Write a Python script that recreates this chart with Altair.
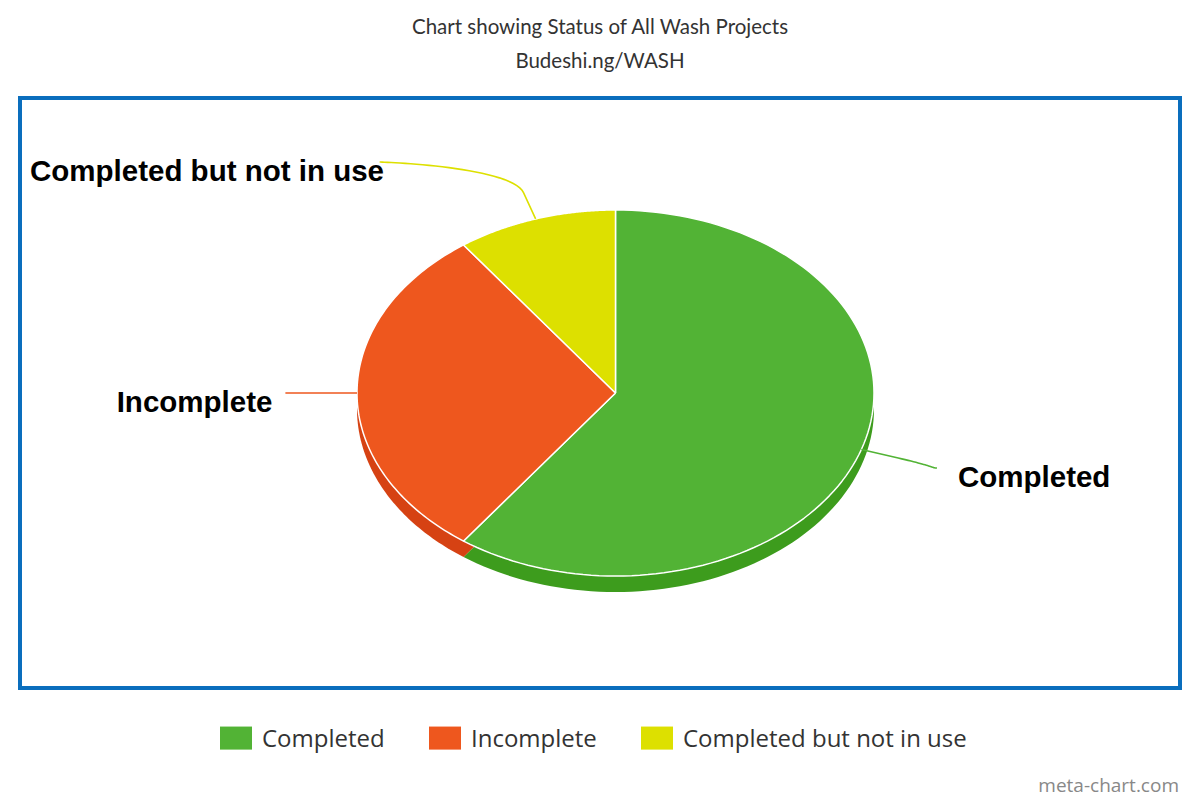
import altair as alt
import pandas as pd

# ---- data ----
CATEGORIES = ["Completed", "Incomplete", "Completed but not in use"]
VALUES = [60, 30, 10]
ORDER = [0, 1, 2]

TITLE = "Chart showing Status of All Wash Projects"
SUBTITLE = "Budeshi.ng/WASH"
CREDIT = "meta-chart.com"

# ---- styles ----
TOP_COLORS = ["#52b335", "#ee571e", "#dde000"]
SIDE_COLORS = ["#3d9c1d", "#d64213", "#b8ba00"]

W, H = 1160, 590
RX, RY = 258.5, 183.0
XDOM = [-595.5 / RX, (W - 595.5) / RX]
YDOM = [-(H - 295) / RY, 295 / RY]
DEPTH = 16 / RY
N = 120
K = 30
LABEL_FONT_SIZE = 29.5
CHAR_W = 14.75  # rough average glyph width used to keep left labels inside the frame

df = pd.DataFrame({"category": CATEGORIES, "value": VALUES, "k": ORDER})

xs = alt.Scale(domain=XDOM, nice=False, zero=False)
ys = alt.Scale(domain=YDOM, nice=False, zero=False)


def base():
    return (
        alt.Chart(df)
        .transform_joinaggregate(total="sum(value)")
        .transform_window(cum="sum(value)", sort=[alt.SortField("k")], frame=[None, 0])
        .transform_calculate(
            a0="2*PI*(datum.cum-datum.value)/datum.total",
            a1="2*PI*datum.cum/datum.total",
        )
        .transform_calculate(am="(datum.a0+datum.a1)/2")
    )


def face(shift):
    return (
        base()
        .transform_calculate(idx=f"sequence(0, {N + 3})")
        .transform_flatten(["idx"])
        .transform_calculate(
            t=f"clamp((datum.idx-1)/{N}, 0, 1)",
            inside=f"datum.idx==0 || datum.idx=={N + 2}",
        )
        .transform_calculate(ang="datum.a0+(datum.a1-datum.a0)*datum.t")
        .transform_calculate(
            px="datum.inside ? 0 : sin(datum.ang)",
            py=f"(datum.inside ? 0 : cos(datum.ang)) - {shift}",
        )
    )


side = face(DEPTH).mark_line(filled=True, strokeWidth=0).encode(
    x=alt.X("px:Q", scale=xs, axis=None),
    y=alt.Y("py:Q", scale=ys, axis=None),
    order="idx:Q",
    color=alt.Color("category:N", scale=alt.Scale(domain=CATEGORIES, range=SIDE_COLORS), legend=None),
)

top = face(0).mark_line(filled=True, stroke="white", strokeWidth=1.5, strokeJoin="round").encode(
    x=alt.X("px:Q", scale=xs, axis=None),
    y=alt.Y("py:Q", scale=ys, axis=None),
    order="idx:Q",
    color=alt.Color(
        "category:N",
        scale=alt.Scale(domain=CATEGORIES, range=TOP_COLORS),
        sort=CATEGORIES,
        legend=alt.Legend(
            title=None,
            orient="none",
            legendX=200,
            legendY=626,
            direction="horizontal",
            symbolType="M-1,-0.84H1V0.6H-1Z",
            symbolSize=1024,
            symbolStrokeWidth=0,
            symbolOpacity=1,
            labelFont="Open Sans",
            labelFontSize=24,
            labelColor="#333333",
            labelOffset=10,
            labelLimit=500,
            columnPadding=44,
            padding=0,
        ),
    ),
)


def geo():
    return (
        base()
        .transform_calculate(
            s="sin(datum.am) >= 0 ? 1 : -1",
            ux="sin(datum.am)",
            uy="cos(datum.am)",
        )
        .transform_calculate(
            ey="1.327*datum.uy",
            ex="datum.s*sqrt(1.277*1.277 - pow(0.9394*datum.uy, 2))",
            bx="1.15*datum.ux",
            by="1.15*datum.uy",
        )
    )


conn = (
    geo()
    .transform_calculate(
        p1x="datum.ex - datum.s*0.0193",
        p1y="datum.ey",
        p2x="2*datum.bx - datum.ux",
        p2y="2*datum.by - datum.uy",
        idx=f"sequence(0, {K + 2})",
    )
    .transform_flatten(["idx"])
    .transform_calculate(t=f"min(datum.idx/{K}, 1)")
    .transform_calculate(u="1-datum.t")
    .transform_calculate(
        qx="pow(datum.u,3)*datum.ex + 3*datum.u*datum.u*datum.t*datum.p1x + 3*datum.u*datum.t*datum.t*datum.p2x + pow(datum.t,3)*datum.bx",
        qy="pow(datum.u,3)*datum.ey + 3*datum.u*datum.u*datum.t*datum.p1y + 3*datum.u*datum.t*datum.t*datum.p2y + pow(datum.t,3)*datum.by",
    )
    .transform_calculate(
        lx=f"datum.idx > {K} ? datum.ux : datum.qx",
        ly=f"datum.idx > {K} ? datum.uy : datum.qy",
    )
    .mark_line(strokeWidth=1.6)
    .encode(
        x=alt.X("lx:Q", scale=xs, axis=None),
        y=alt.Y("ly:Q", scale=ys, axis=None),
        order="idx:Q",
        color=alt.Color("category:N", scale=alt.Scale(domain=CATEGORIES, range=TOP_COLORS), legend=None),
    )
)

label_style = dict(font="Liberation Sans", fontSize=LABEL_FONT_SIZE, fontWeight="bold", color="#000000", baseline="alphabetic", dy=19)

labels_right = (
    geo()
    .transform_filter("datum.s > 0")
    .mark_text(align="left", dx=21, **label_style)
    .encode(x=alt.X("ex:Q", scale=xs, axis=None), y=alt.Y("ey:Q", scale=ys, axis=None), text="category:N")
)
labels_left = (
    geo()
    .transform_filter("datum.s < 0")
    .transform_calculate(
        tx=f"max(datum.ex - {13 / RX}, {XDOM[0]} + (10 + length(datum.category)*{CHAR_W})/{RX})"
    )
    .mark_text(align="right", **label_style)
    .encode(x=alt.X("tx:Q", scale=xs, axis=None), y=alt.Y("ey:Q", scale=ys, axis=None), text="category:N")
)

tdf = pd.DataFrame({"t": [TITLE], "s": [SUBTITLE], "c": [CREDIT]})
title_txt = alt.Chart(tdf).mark_text(font="Lato", fontSize=20.5, color="#333333", align="center", baseline="alphabetic").encode(
    text="t:N", x=alt.value(W / 2), y=alt.value(34 - 98)
)
sub_txt = alt.Chart(tdf).mark_text(font="Lato", fontSize=20.5, color="#333333", align="center", baseline="alphabetic").encode(
    text="s:N", x=alt.value(W / 2), y=alt.value(68 - 98)
)
credit_txt = alt.Chart(tdf).mark_text(font="Open Sans", fontSize=19, color="#888888", align="right", baseline="alphabetic").encode(
    text="c:N", x=alt.value(1179 - 20), y=alt.value(792 - 98)
)

chart = (
    alt.layer(side, top, conn, labels_right, labels_left, title_txt, sub_txt, credit_txt)
    .resolve_scale(color="independent")
    .properties(
        width=W,
        height=H,
        padding={"left": 20, "top": 98, "right": 20, "bottom": 112},
        autosize=alt.AutoSizeParams(type="none"),
        background="white",
    )
    .configure_view(stroke="#0a6ebd", strokeWidth=4)
)

chart.save("out.html", embed_options={"renderer": "svg", "actions": False})
